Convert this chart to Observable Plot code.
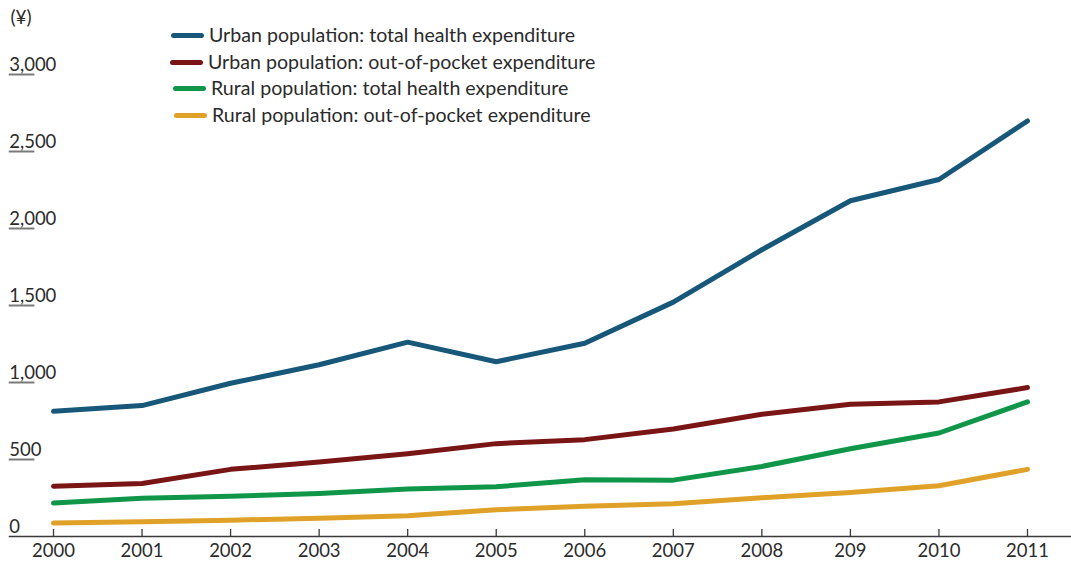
<!DOCTYPE html>
<html>
<head>
<meta charset="utf-8">
<script src="https://cdn.jsdelivr.net/npm/d3@7"></script>
<script src="https://cdn.jsdelivr.net/npm/@observablehq/plot@0.6"></script>
<style>
  html, body { margin: 0; padding: 0; background: #fff; }
  #wrap { position: relative; width: 1071px; height: 562px; font-family: Lato, sans-serif; color: #2b2b2b; }
  #legend { position: absolute; left: 171px; top: 22px; font-size: 19.6px; line-height: 26.7px; }
  .row { display: flex; align-items: center; white-space: nowrap; height: 26.7px; }
  .sw { width: 33px; height: 5px; border-radius: 3px; margin-right: 5px; }
</style>
</head>
<body>
<div id="wrap"><div id="chart"></div><div id="legend"></div></div>
<script>
const years = [2000, 2001, 2002, 2003, 2004, 2005, 2006, 2007, 2008, 2009, 2010, 2011];
const xTickLabels = ["2000", "2001", "2002", "2003", "2004", "2005", "2006", "2007", "2008", "209", "2010", "2011"];
const yTicks = [0, 500, 1000, 1500, 2000, 2500, 3000];
const seriesNames = [
  "Urban population: total health expenditure",
  "Urban population: out-of-pocket expenditure",
  "Rural population: total health expenditure",
  "Rural population: out-of-pocket expenditure"
];
const seriesColors = ["#17587a", "#7a1515", "#0f9648", "#e0a128"];
const urbanTotal = [813, 850, 995, 1115, 1262, 1135, 1255, 1522, 1862, 2180, 2318, 2698];
const urbanOOP = [326, 344, 436, 484, 538, 603, 629, 698, 794, 859, 874, 967];
const ruralTotal = [217, 249, 262, 279, 308, 323, 369, 366, 455, 570, 672, 874];
const ruralOOP = [87, 96, 106, 119, 135, 174, 197, 213, 252, 286, 330, 436];

const allSeries = [urbanTotal, urbanOOP, ruralTotal, ruralOOP];
const rows = allSeries.flatMap((vals, i) => vals.map((v, j) => ({series: seriesNames[i], year: years[j], value: v})));

const font = "Lato, sans-serif";
const plot = Plot.plot({
  width: 1071,
  height: 562,
  marginTop: 74,
  marginBottom: 26,
  marginLeft: 53,
  marginRight: 44,
  style: {fontFamily: font, fontSize: "18px", color: "#2b2b2b", background: "#fff", overflow: "visible"},
  x: {domain: [2000, 2011], axis: null},
  y: {domain: [0, 3000], axis: null},
  color: {domain: seriesNames, range: seriesColors},
  marks: [
    Plot.ruleY(yTicks.filter(d => d > 0), {y: d => d, x1: 1999.5, x2: 1999.79, stroke: "#7a7a7a", strokeWidth: 2}),
    Plot.text(yTicks, {x: 1999.5, y: d => d, text: d => d3.format(",")(d), textAnchor: "start", lineAnchor: "bottom", dy: -4, fill: "#2b2b2b", fontSize: 18.5}),
    Plot.text(["(¥)"], {frameAnchor: "top-left", dx: -43, dy: -64, text: d => d, textAnchor: "start", lineAnchor: "top", fill: "#2b2b2b", fontSize: 19}),
    Plot.ruleY([0], {x1: 1999.5, x2: 2011.5, stroke: "#3a3a3a", strokeWidth: 1.6}),
    Plot.tickX(years, {x: d => d, insetTop: 455, stroke: "#3a3a3a", strokeWidth: 1.3}),
    Plot.text(years, {x: d => d, frameAnchor: "bottom", text: (d, i) => xTickLabels[i], lineAnchor: "top", dy: 7, fill: "#2b2b2b", fontSize: 18.5}),
    Plot.line(rows, {x: "year", y: "value", z: "series", stroke: "series", strokeWidth: 5, strokeLinecap: "round", strokeLinejoin: "round"})
  ]
});
document.getElementById("chart").appendChild(plot);

const legendShift = [0, -1, 2, 3];
const legend = document.getElementById("legend");
seriesNames.forEach((name, i) => {
  const row = document.createElement("div");
  row.className = "row";
  row.style.marginLeft = legendShift[i] + "px";
  const sw = document.createElement("span");
  sw.className = "sw";
  sw.style.background = seriesColors[i];
  const t = document.createElement("span");
  t.textContent = name;
  row.appendChild(sw);
  row.appendChild(t);
  legend.appendChild(row);
});
</script>
</body>
</html>
